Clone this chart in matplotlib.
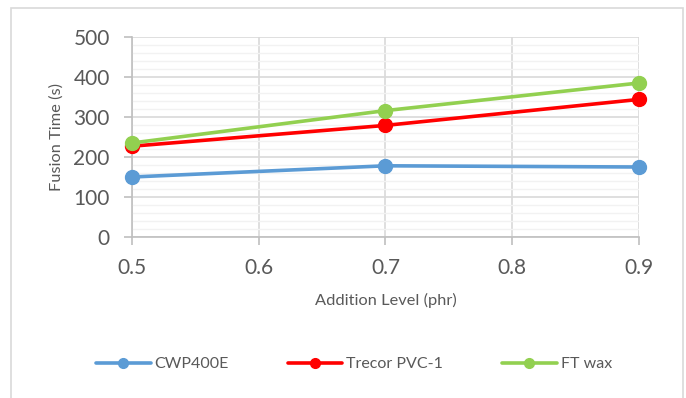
import numpy as np
import matplotlib
matplotlib.use("Agg")
import matplotlib.pyplot as plt
from matplotlib.patches import Rectangle

levels = [0.5, 0.7, 0.9]
cwp400e = [150, 178, 175]
trecor = [227, 279, 344]
ft_wax = [235, 316, 385]

names = ["CWP400E", "Trecor PVC-1", "FT wax"]
colours = ["#5B9BD5", "#FF0000", "#92D050"]

plt.rcParams['font.family'] = ['Lato', 'DejaVu Sans']

fig = plt.figure(figsize=(6.86, 3.98), dpi=100)
ax = fig.add_axes([132/686, 1-237/398, (639-132)/686, 200/398])

# chart area border
fig.patches.append(Rectangle((11/686, -0.1), (683-11)/686, 1.1-8/398,
                             transform=fig.transFigure, fill=False,
                             edgecolor="#D9D9D9", lw=1.2, zorder=0))

ax.set_xlim(0.5, 0.9)
ax.set_ylim(0, 500)
ax.set_xticks(np.arange(0.5, 0.91, 0.1))
ax.set_xticklabels(["0.5", "0.6", "0.7", "0.8", "0.9"])
ax.set_yticks(np.arange(0, 501, 100))
ax.set_yticks(np.arange(0, 501, 20), minor=True)

ax.grid(which="minor", axis="y", color="#F2F2F2", lw=1)
ax.grid(which="major", color="#D9D9D9", lw=1.2)
ax.set_axisbelow(True)

for s in ["top", "right"]:
    ax.spines[s].set_visible(False)
for s in ["left", "bottom"]:
    ax.spines[s].set_color("#BFBFBF")
    ax.spines[s].set_linewidth(1.2)

ax.tick_params(axis="both", which="major", length=6, color="#BFBFBF",
               labelsize=15, labelcolor="#595959", width=1.2)
ax.tick_params(axis="y", which="minor", length=0)
ax.tick_params(axis="x", pad=9)
ax.tick_params(axis="y", pad=10)

handles = []
for vals, name, c in zip([cwp400e, trecor, ft_wax], names, colours):
    h, = ax.plot(levels, vals, color=c, lw=2.6, marker="o", ms=10,
                 label=name, solid_capstyle="round", clip_on=False, zorder=3)
    handles.append(h)

ax.set_ylabel("Fusion Time (s)", fontsize=11.8, color="#595959", labelpad=7)
ax.set_xlabel("Addition Level (phr)", fontsize=11.8, color="#595959", labelpad=11)

leg = fig.legend(handles, names, loc="center",
                 bbox_to_anchor=(0.5 + 11/686, 1-364/398),
                 ncol=3, frameon=False, fontsize=11.5, handlelength=3.4,
                 columnspacing=3.7, handletextpad=0.25, markerscale=0.7)
for t in leg.get_texts():
    t.set_color("#595959")

fig.savefig("out.png", dpi=100)
